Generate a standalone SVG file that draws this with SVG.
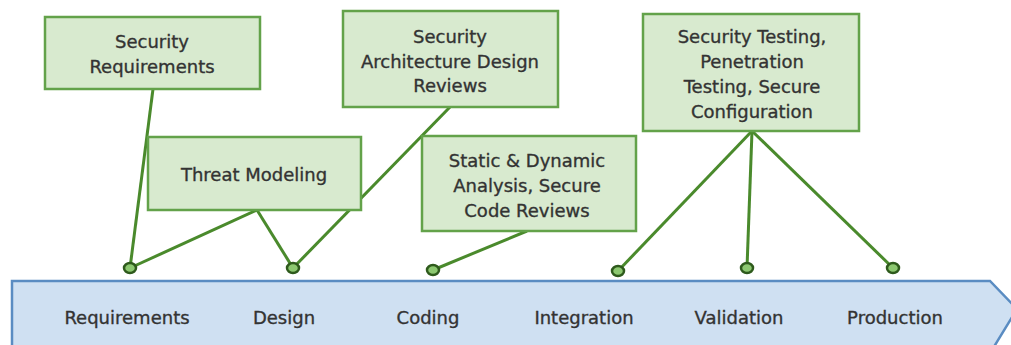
<svg xmlns="http://www.w3.org/2000/svg" width="1011" height="345" viewBox="0 0 1011 345">
<style>
.box{fill:#d8eacf;stroke:#63a24a;stroke-width:2.5}
.t{font-family:"DejaVu Sans",sans-serif;font-size:18px;fill:#333;stroke:#333;stroke-width:0.35;text-anchor:middle}
.conn line{stroke:#4a8a2c;stroke-width:3}
.dot{fill:#8cc870;stroke:#2e5a1c;stroke-width:2.5}
.band{fill:#cfe0f2;stroke:#5a8cc2;stroke-width:2.5}
</style>
<rect width="1011" height="345" fill="#fff"/>
<g id="band">
<path class="band" d="M12,281 L990,281 L1017,309 L992,350 L12,350 Z"/>
<text class="t" x="127" y="324">Requirements</text>
<text class="t" x="284" y="324">Design</text>
<text class="t" x="428" y="324">Coding</text>
<text class="t" x="584" y="324">Integration</text>
<text class="t" x="739" y="324">Validation</text>
<text class="t" x="895" y="324">Production</text>
</g>
<g id="connectors" class="conn">
<line x1="153" y1="89" x2="130" y2="268"/>
<line x1="257" y1="210" x2="130" y2="268"/>
<line x1="257" y1="210" x2="293" y2="268"/>
<line x1="450" y1="107" x2="293" y2="268"/>
<line x1="527" y1="231" x2="433" y2="270"/>
<line x1="752" y1="131" x2="618" y2="271"/>
<line x1="752" y1="131" x2="747" y2="268"/>
<line x1="752" y1="131" x2="893" y2="268"/>
</g>
<g id="dots">
<ellipse class="dot" cx="130" cy="268" rx="6" ry="5"/>
<ellipse class="dot" cx="293" cy="268" rx="6" ry="5"/>
<ellipse class="dot" cx="433" cy="270" rx="6" ry="5"/>
<ellipse class="dot" cx="618" cy="271" rx="6" ry="5"/>
<ellipse class="dot" cx="747" cy="268" rx="6" ry="5"/>
<ellipse class="dot" cx="893" cy="268" rx="6" ry="5"/>
</g>
<g id="security-requirements">
<rect class="box" x="45" y="17" width="215" height="72"/>
<text class="t" x="152" y="48">Security</text>
<text class="t" x="152" y="73">Requirements</text>
</g>
<g id="threat-modeling">
<rect class="box" x="148" y="137" width="213" height="73"/>
<text class="t" x="254" y="181">Threat Modeling</text>
</g>
<g id="security-architecture">
<rect class="box" x="343" y="11" width="215" height="96"/>
<text class="t" x="450" y="43">Security</text>
<text class="t" x="450" y="68">Architecture Design</text>
<text class="t" x="450" y="92">Reviews</text>
</g>
<g id="static-dynamic">
<rect class="box" x="422" y="136" width="214" height="95"/>
<text class="t" x="527" y="167">Static &amp; Dynamic</text>
<text class="t" x="527" y="192">Analysis, Secure</text>
<text class="t" x="527" y="217">Code Reviews</text>
</g>
<g id="security-testing">
<rect class="box" x="643" y="14" width="216" height="117"/>
<text class="t" x="752" y="43">Security Testing,</text>
<text class="t" x="752" y="68">Penetration</text>
<text class="t" x="752" y="93">Testing, Secure</text>
<text class="t" x="752" y="118">Configuration</text>
</g>
</svg>
